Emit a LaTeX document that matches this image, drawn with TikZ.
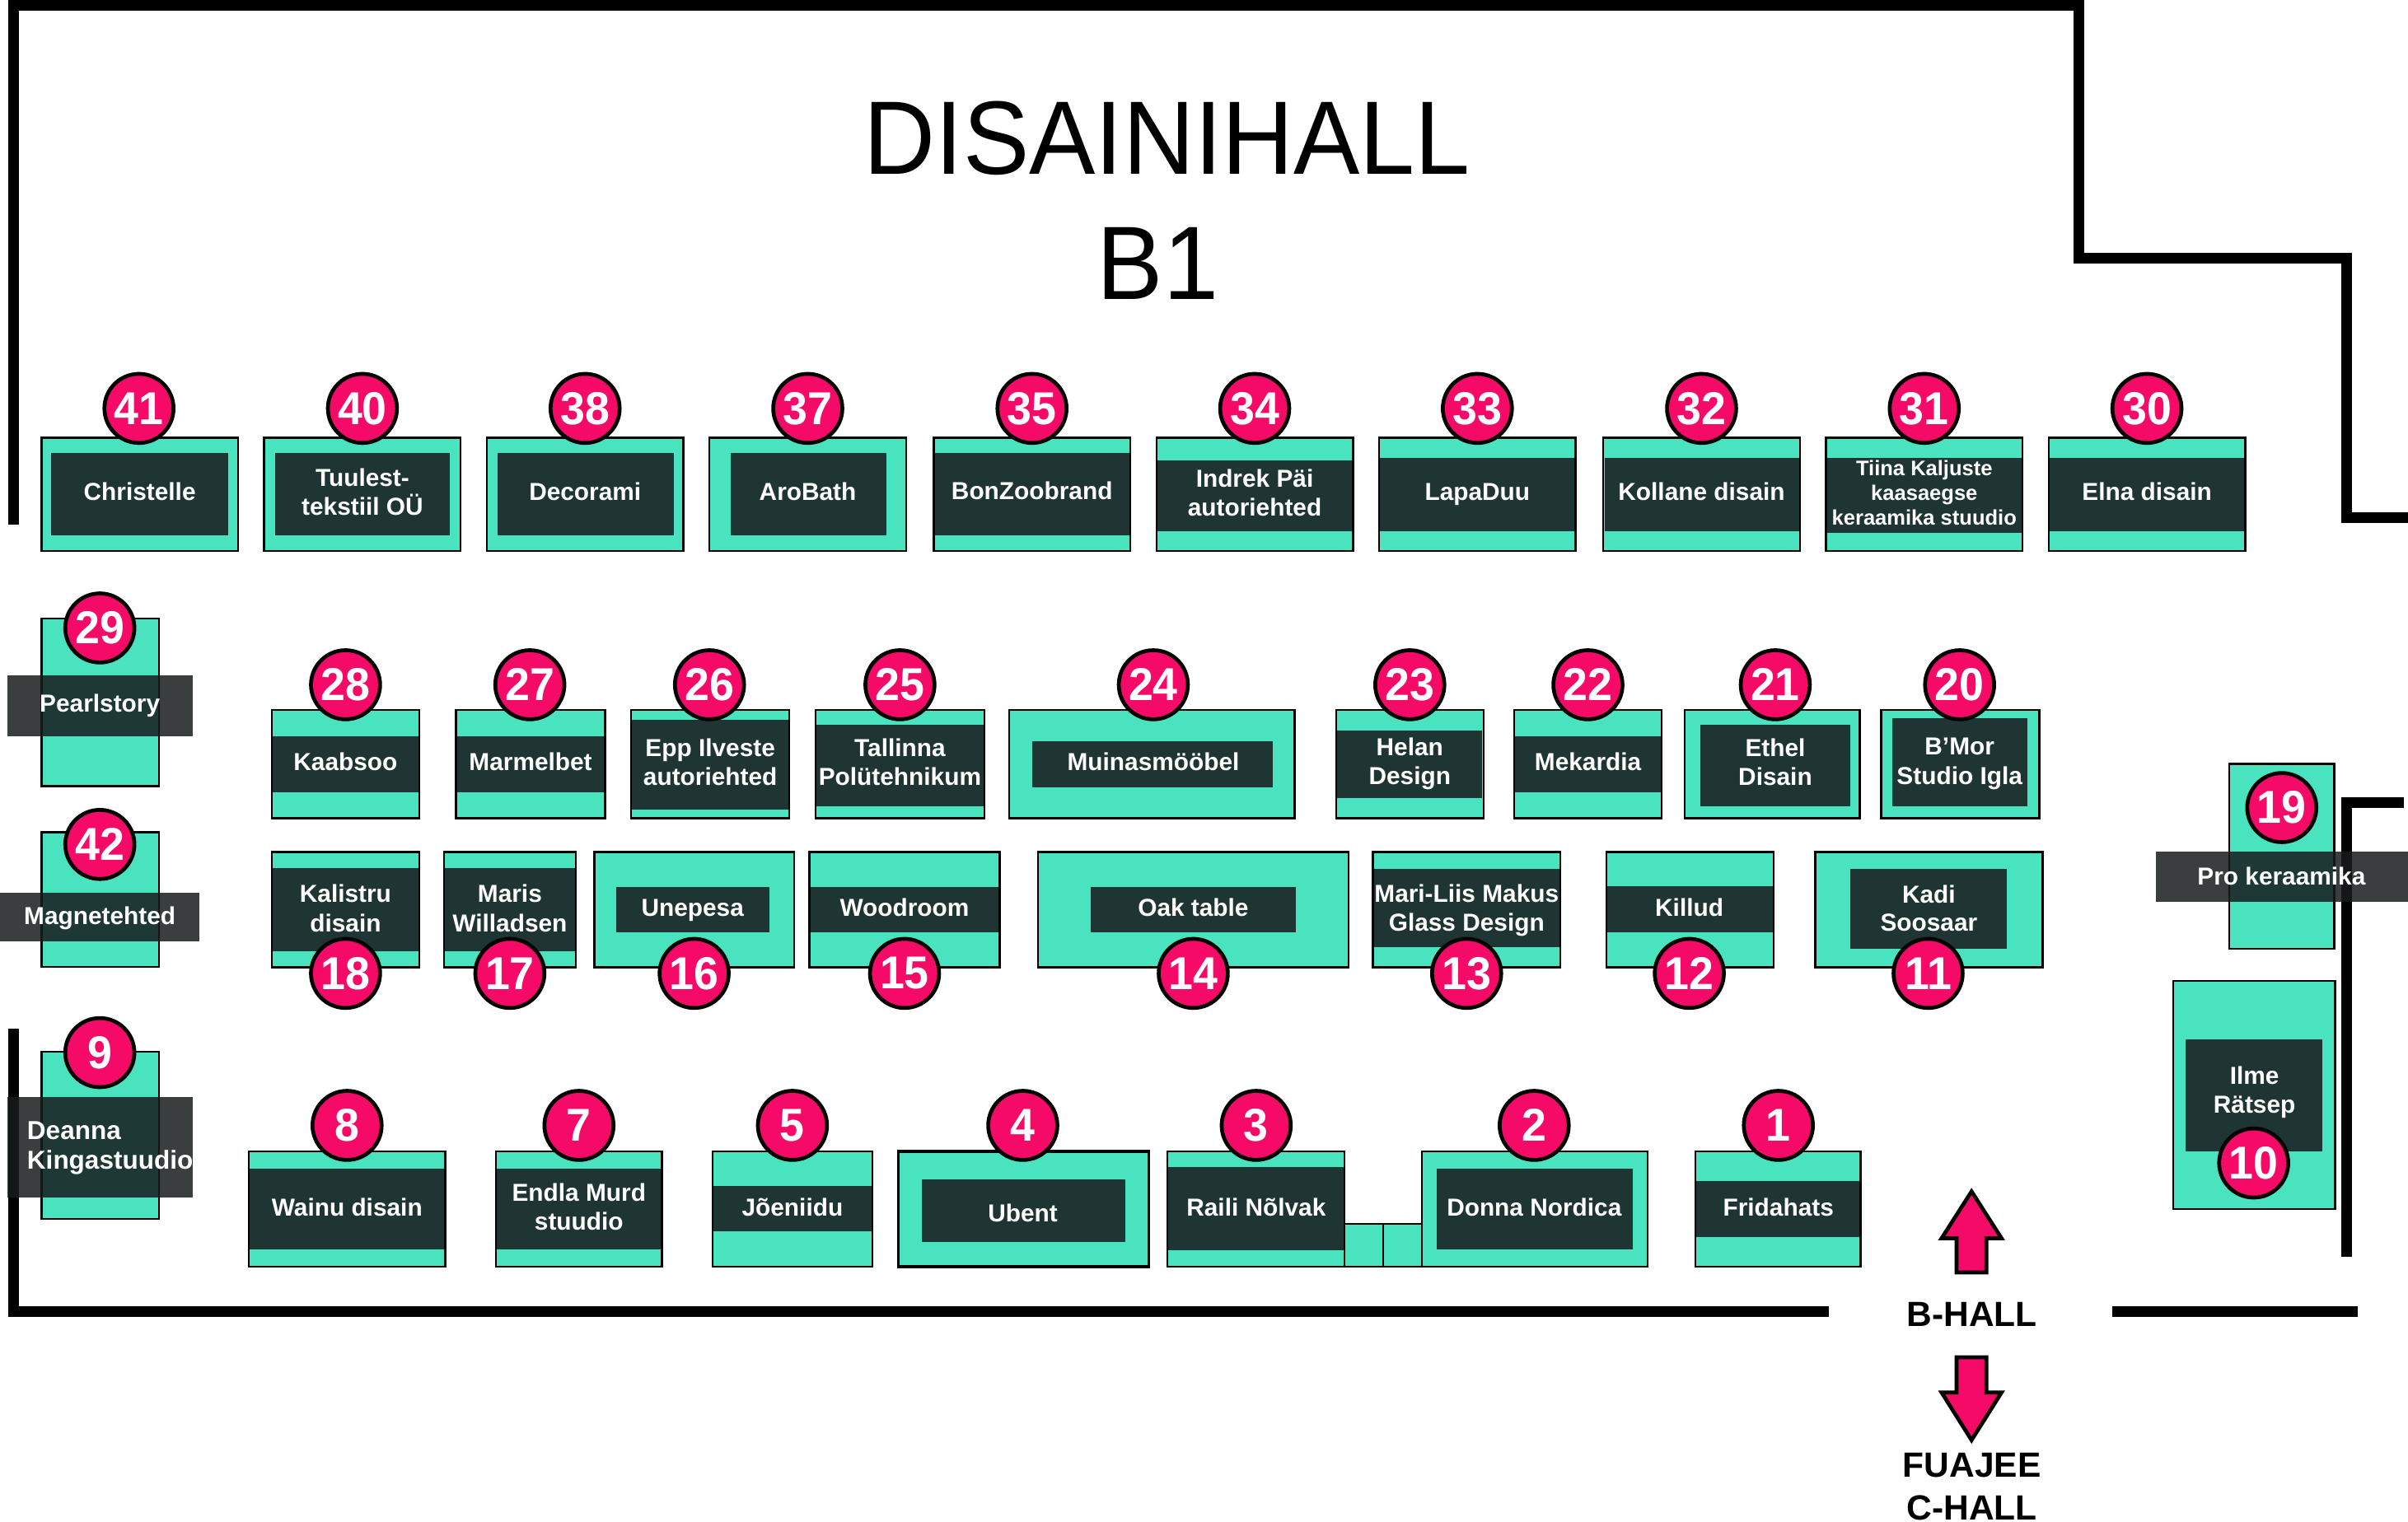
\documentclass[tikz,border=0pt]{standalone}
\usepackage{fontspec}
\setmainfont{Liberation Sans}
\newfontfamily\titlefont[FakeStretch=0.95]{Liberation Sans}
\newfontfamily\badgefont[FakeStretch=0.96]{Liberation Sans}
\definecolor{boothgreen}{HTML}{4AE3C0}
\definecolor{platedark}{HTML}{1F3533}
\definecolor{bannerdark}{HTML}{171C1D}
\definecolor{badgepink}{HTML}{F50A68}
\begin{document}
\begin{tikzpicture}[x=1pt, y=-1pt,
		wall/.style={line width=7pt, draw=black},
		booth/.style={draw=black, line width=1.3pt, fill=boothgreen},
		plate/.style={fill=platedark},
		banner/.style={fill=bannerdark, opacity=0.85},
		boothname/.style={align=center, inner sep=0pt, text=white, font=\bfseries\fontsize{16}{19}\selectfont},
		oneliner/.style={boothname, anchor=base},
		smallname/.style={boothname, font=\bfseries\fontsize{13.7}{16}\selectfont},
		badge/.style={circle, draw=black, line width=2.5pt, fill=badgepink, minimum size=45pt, inner sep=0pt, text=white, font=\badgefont\bfseries\fontsize{30}{30}\selectfont},
		hallname/.style={anchor=base, inner sep=0pt, font=\bfseries\fontsize{22.8}{28}\selectfont},
		titletext/.style={anchor=base, inner sep=0pt, font=\titlefont\fontsize{68}{70}\selectfont},
		hallarrow/.style={draw=black, line width=2.5pt, miter limit=10, fill=badgepink}]
	\useasboundingbox (0,0) rectangle (1568,990.8);

	\draw[wall] (9,341.5) -- (9,3.5) -- (1353.5,3.5) -- (1353.5,168) -- (1528,168) -- (1528,337) -- (1568,337);
	\draw[wall] (9,670) -- (9,854.5) -- (1191,854.5);
	\draw[wall] (1375.5,854.5) -- (1535.5,854.5);
	\draw[wall] (1565.5,523) -- (1527.9,523) -- (1527.9,818.5);

	\node[titletext] (title) at (760,113.2) {DISAINIHALL};
	\node[titletext] (subtitle) at (754,195) {B1};

	\draw[booth] (27,285) rectangle (155,359);
	\fill[plate] (33.3,295) rectangle (148.7,348.7);
	\node[oneliner] (t41) at (91,326) {Christelle};
	\node[badge] (b41) at (90.5,266) {41};

	\draw[booth] (172,285) rectangle (300,359);
	\fill[plate] (179,295) rectangle (293,348.7);
	\node[boothname] (t40) at (236,320.5) {Tuulest-\\tekstiil OÜ};
	\node[badge] (b40) at (236,266) {40};

	\draw[booth] (317,285) rectangle (445,359);
	\fill[plate] (324,295) rectangle (439,348.7);
	\node[oneliner] (t38) at (381,326) {Decorami};
	\node[badge] (b38) at (381,266) {38};

	\draw[booth] (462,285) rectangle (590,359);
	\fill[plate] (476,295) rectangle (577,348.7);
	\node[oneliner] (t37) at (526,326) {AroBath};
	\node[badge] (b37) at (526,266) {37};

	\draw[booth] (608,285) rectangle (736,359);
	\fill[plate] (608.7,295) rectangle (735.3,348.7);
	\node[oneliner] (t35) at (672,325.5) {BonZoobrand};
	\node[badge] (b35) at (672,266) {35};

	\draw[booth] (753,285) rectangle (881,359);
	\fill[plate] (753.7,300) rectangle (880.3,346);
	\node[boothname] (t34) at (817,321) {Indrek Päi\\autoriehted};
	\node[badge] (b34) at (817,266) {34};

	\draw[booth] (898,285) rectangle (1026,359);
	\fill[plate] (898.7,298) rectangle (1025.3,346);
	\node[oneliner] (t33) at (962,326) {LapaDuu};
	\node[badge] (b33) at (962,266) {33};

	\draw[booth] (1044,285) rectangle (1172,359);
	\fill[plate] (1044.7,298) rectangle (1171.3,346);
	\node[oneliner] (t32) at (1108,326) {Kollane disain};
	\node[badge] (b32) at (1108,266) {32};

	\draw[booth] (1189,285) rectangle (1317,359);
	\fill[plate] (1189.7,298) rectangle (1316.3,347);
	\node[smallname] (t31) at (1253,321) {Tiina Kaljuste\\kaasaegse\\keraamika stuudio};
	\node[badge] (b31) at (1253,266) {31};

	\draw[booth] (1334,285) rectangle (1462,359);
	\fill[plate] (1334.7,298) rectangle (1461.3,346);
	\node[oneliner] (t30) at (1398,326) {Elna disain};
	\node[badge] (b30) at (1398,266) {30};

	\draw[booth] (27,403) rectangle (103.5,512);
	\fill[banner] (5,440) rectangle (125.3,479.8);
	\node[oneliner] (t29) at (65,464) {Pearlstory};
	\node[badge] (b29) at (65,409) {29};

	\draw[booth] (177,462.5) rectangle (273,533);
	\fill[plate] (177.7,479.8) rectangle (272.3,515.8);
	\node[oneliner] (t28) at (225,502) {Kaabsoo};
	\node[badge] (b28) at (225,446) {28};

	\draw[booth] (297,462.5) rectangle (394,533);
	\fill[plate] (297.7,479.8) rectangle (393.3,515.8);
	\node[oneliner] (t27) at (345.5,502) {Marmelbet};
	\node[badge] (b27) at (345,446) {27};

	\draw[booth] (411,462.5) rectangle (514,533);
	\fill[plate] (411.7,468.6) rectangle (513.3,527.5);
	\node[boothname] (t26) at (462.5,496.5) {Epp Ilveste\\autoriehted};
	\node[badge] (b26) at (462,446) {26};

	\draw[booth] (531,462.5) rectangle (641,533);
	\fill[plate] (531.7,472) rectangle (640.3,525);
	\node[boothname] (t25) at (586,496.5) {Tallinna\\Polütehnikum};
	\node[badge] (b25) at (586,446) {25};

	\draw[booth] (657,462.5) rectangle (843,533);
	\fill[plate] (672,483) rectangle (829,513);
	\node[oneliner] (t24) at (751,502) {Muinasmööbel};
	\node[badge] (b24) at (751,446) {24};

	\draw[booth] (870,462.5) rectangle (966,533);
	\fill[plate] (870.7,476) rectangle (965.3,520);
	\node[boothname] (t23) at (918,497.5) {Helan\\Design};
	\node[badge] (b23) at (918,446) {23};

	\draw[booth] (986,462.5) rectangle (1082,533);
	\fill[plate] (986.7,479.8) rectangle (1081.3,515.8);
	\node[oneliner] (t22) at (1034,502) {Mekardia};
	\node[badge] (b22) at (1034,446) {22};

	\draw[booth] (1097,462.5) rectangle (1211,533);
	\fill[plate] (1107,472) rectangle (1205,525);
	\node[boothname] (t21) at (1156,496.5) {Ethel\\Disain};
	\node[badge] (b21) at (1156,446) {21};

	\draw[booth] (1225,462.5) rectangle (1328,533);
	\fill[plate] (1232,468) rectangle (1320,525);
	\node[boothname] (t20) at (1276,497.5) {B’Mor\\Studio Igla};
	\node[badge] (b20) at (1276,446) {20};

	\draw[booth] (27,542) rectangle (103.5,629.8);
	\fill[banner] (0,581.6) rectangle (129.9,613);
	\node[oneliner] (t42) at (65,602) {Magnetehted};
	\node[badge] (b42) at (65,550) {42};

	\draw[booth] (177,555) rectangle (273,630);
	\fill[plate] (177.7,565.4) rectangle (272.3,619.6);
	\node[boothname] (t18) at (225,591.5) {Kalistru\\disain};
	\node[badge] (b18) at (225,634) {18};

	\draw[booth] (289,555) rectangle (375,630);
	\fill[plate] (289.7,565.4) rectangle (374.3,619.6);
	\node[boothname] (t17) at (332,591.5) {Maris\\Willadsen};
	\node[badge] (b17) at (332,634) {17};

	\draw[booth] (387,555) rectangle (517,630);
	\fill[plate] (401,577.5) rectangle (501,607.5);
	\node[oneliner] (t16) at (451,597) {Unepesa};
	\node[badge] (b16) at (452,634) {16};

	\draw[booth] (527,555) rectangle (651,630);
	\fill[plate] (527.7,577.5) rectangle (650.3,607.5);
	\node[oneliner] (t15) at (589,597) {Woodroom};
	\node[badge] (b15) at (589,634) {15};

	\draw[booth] (676,555) rectangle (878,630);
	\fill[plate] (710,577.5) rectangle (844,607.5);
	\node[oneliner] (t14) at (777,597) {Oak table};
	\node[badge] (b14) at (777,634) {14};

	\draw[booth] (894,555) rectangle (1016,630);
	\fill[plate] (894.7,566) rectangle (1015.3,617);
	\node[boothname] (t13) at (955,593) {Mari-Liis Makus\\Glass Design};
	\node[badge] (b13) at (955,634) {13};

	\draw[booth] (1046,555) rectangle (1155,630);
	\fill[plate] (1046.7,577) rectangle (1154.3,607);
	\node[oneliner] (t12) at (1100,597) {Killud};
	\node[badge] (b12) at (1100,634) {12};

	\draw[booth] (1182,555) rectangle (1330,630);
	\fill[plate] (1205,566) rectangle (1307,618);
	\node[boothname] (t11) at (1256,591.7) {Kadi\\[-1pt]Soosaar};
	\node[badge] (b11) at (1255.5,634) {11};

	\draw[booth] (1451.5,497.5) rectangle (1520,618);
	\fill[banner] (1404,554.5) rectangle (1568,587.2);
	\node[oneliner] (t19) at (1485.6,576.5) {Pro keraamika};
	\node[badge] (b19) at (1485.8,526) {19};

	\draw[booth] (1415,639) rectangle (1520.5,787.5);
	\fill[plate] (1423,677) rectangle (1512,750);
	\node[boothname] (t10) at (1468,711.5) {Ilme\\Rätsep};
	\node[badge] (b10) at (1467.5,757.5) {10};

	\draw[booth] (27,685) rectangle (103.5,793.8);
	\fill[banner] (5,714.6) rectangle (125.3,780);
	\node[boothname, align=left, anchor=west, font=\bfseries\fontsize{16.9}{19.3}\selectfont] (t9) at (17.5,748) {Deanna\\Kingastuudio};
	\node[badge] (b9) at (65,685.6) {9};

	\draw[booth] (162,750) rectangle (290,825);
	\fill[plate] (162.7,761.4) rectangle (289.3,813.5);
	\node[oneliner] (t8) at (226,792) {Wainu disain};
	\node[badge] (b8) at (226,733) {8};

	\draw[booth] (323,750) rectangle (431,825);
	\fill[plate] (323.7,761.4) rectangle (430.3,813.5);
	\node[boothname] (t7) at (377,786) {Endla Murd\\stuudio};
	\node[badge] (b7) at (377,733) {7};

	\draw[booth] (464,750) rectangle (568,825);
	\fill[plate] (464.7,772.5) rectangle (567.3,802);
	\node[oneliner] (t5) at (516,792) {Jõeniidu};
	\node[badge] (b5) at (516,733) {5};

	\draw[booth, line width=2pt] (585,750) rectangle (748,825);
	\fill[plate] (600,768) rectangle (733,809);
	\node[oneliner] (t4) at (666,796) {Ubent};
	\node[badge] (b4) at (666,733) {4};

	\draw[booth] (760,750) rectangle (875.5,825);
	\fill[plate] (760.7,760.3) rectangle (874.8,814.5);
	\node[oneliner] (t3) at (818,792) {Raili Nõlvak};
	\node[badge] (b3) at (818,733) {3};

	\draw[booth] (875.5,797) rectangle (900.7,825);
	\draw[booth] (900.7,797) rectangle (926,825);

	\draw[booth] (926,750) rectangle (1073,825);
	\fill[plate] (935.5,761.2) rectangle (1063.3,813.6);
	\node[oneliner] (t2) at (999,792) {Donna Nordica};
	\node[badge] (b2) at (999,733) {2};

	\draw[booth] (1104,750) rectangle (1211.5,825);
	\fill[plate] (1104.7,769.2) rectangle (1210.8,805.5);
	\node[oneliner] (t1) at (1158,792) {Fridahats};
	\node[badge] (b1) at (1158,733) {1};

	\draw[hallarrow] (1283.8,776) -- (1303.3,806.5) -- (1293.5,806.5) -- (1293.5,828.8) -- (1274,828.8) -- (1274,806.5) -- (1264.3,806.5) -- cycle;
	\draw[hallarrow] (1283.8,938) -- (1303.3,907) -- (1293.5,907) -- (1293.5,884) -- (1274,884) -- (1274,907) -- (1264.3,907) -- cycle;

	\node[hallname] (bhall) at (1284,864) {B-HALL};
	\node[hallname] (fuajee) at (1284,962) {FUAJEE};
	\node[hallname] (chall) at (1284,989.8) {C-HALL};
\end{tikzpicture}
\end{document}
